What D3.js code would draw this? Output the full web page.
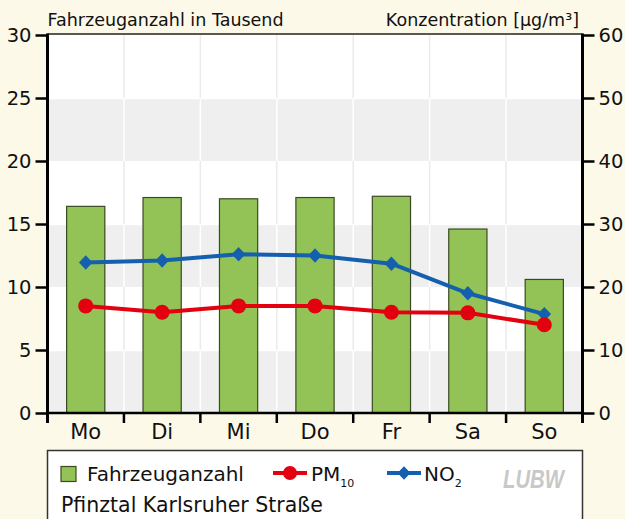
<!DOCTYPE html>
<html><head><meta charset="utf-8">
<script src="https://cdn.jsdelivr.net/npm/d3@7"></script>
<style>
html,body{margin:0;padding:0;background:#fdf9e8;}
svg{display:block;font-family:"DejaVu Sans",sans-serif;}
</style></head>
<body><svg id="c" width="625" height="519"></svg>
<script>
const days = ["Mo","Di","Mi","Do","Fr","Sa","So"];
const vehicles = [16.4, 17.1, 17.0, 17.1, 17.2, 14.6, 10.6];   // thousands
const pm10 = [17.0, 16.0, 17.0, 17.0, 16.0, 15.9, 14.0];      // µg/m³
const no2 = [23.9, 24.2, 25.2, 25.0, 23.7, 19.0, 15.7];       // µg/m³
const leftTicks = [0,5,10,15,20,25,30];
const rightTicks = [0,10,20,30,40,50,60];
const greyBands = [[0,5],[10,15],[20,25]];

const svg = d3.select("#c");
const L = 47.5, R = 582.5, T = 35, B = 413;
const yL = d3.scaleLinear().domain([0,30]).range([B,T]);
const yR = d3.scaleLinear().domain([0,60]).range([B,T]);
const x = d3.scaleBand().domain(days).range([L,R]).paddingInner(0.5).paddingOuter(0.25);
const xb = d3.scaleBand().domain(days).range([L,R]).padding(0);
const cx = d => x(d) + x.bandwidth()/2;

svg.append("rect").attr("width",625).attr("height",519).attr("fill","#fdf9e8");
svg.append("rect").attr("x",L).attr("y",T).attr("width",R-L).attr("height",B-T).attr("fill","#fff");
const bounds = days.slice(1).map(d => xb(d));
svg.append("g").selectAll("line").data(bounds).join("line")
  .attr("x1",d=>d).attr("x2",d=>d).attr("y1",T).attr("y2",B)
  .attr("stroke","#ebebeb").attr("stroke-width",1.5);
svg.append("g").selectAll("rect").data(greyBands).join("rect")
  .attr("x",L).attr("width",R-L).attr("y",d=>yL(d[1])).attr("height",d=>yL(d[0])-yL(d[1]))
  .attr("fill","#efefef");
const bg = svg.append("g");
greyBands.forEach(b => {
  bg.selectAll(null).data(bounds).join("line")
    .attr("x1",d=>d).attr("x2",d=>d).attr("y1",yL(b[1])+1.5).attr("y2",yL(b[0]))
    .attr("stroke","#fff").attr("stroke-width",1.5);
  bg.append("line").attr("x1",L).attr("x2",R).attr("y1",yL(b[1])+0.5).attr("y2",yL(b[1])+0.5)
    .attr("stroke","#fff").attr("stroke-width",1.5);
});

svg.append("g").selectAll("rect").data(days).join("rect")
  .attr("x",d=>x(d)).attr("width",x.bandwidth())
  .attr("y",(d,i)=>yL(vehicles[i])).attr("height",(d,i)=>B-yL(vehicles[i]))
  .attr("fill","#93c357").attr("stroke","#3a4a22").attr("stroke-width",1.2);

const lineR = d3.line().x((v,i)=>cx(days[i])).y(v=>yR(v));
svg.append("path").datum(no2).attr("d",lineR).attr("fill","none")
  .attr("stroke","#1460ae").attr("stroke-width",4).attr("stroke-linejoin","round");
const diamond = (w,h) => `M0,${-h}L${w},0L0,${h}L${-w},0Z`;
svg.append("g").selectAll("path").data(no2).join("path")
  .attr("transform",(v,i)=>`translate(${cx(days[i])},${yR(v)})`)
  .attr("d",diamond(6.8,7.2)).attr("fill","#1460ae");
svg.append("path").datum(pm10).attr("d",lineR).attr("fill","none")
  .attr("stroke","#e3000f").attr("stroke-width",4).attr("stroke-linejoin","round");
svg.append("g").selectAll("circle").data(pm10).join("circle")
  .attr("cx",(v,i)=>cx(days[i])).attr("cy",v=>yR(v)).attr("r",7.5).attr("fill","#e3000f");

svg.append("line").attr("x1",L).attr("x2",R).attr("y1",T-1).attr("y2",T-1)
  .attr("stroke","#222").attr("stroke-width",1.5);

const axL = svg.append("g").attr("transform",`translate(${L},0)`)
  .call(d3.axisLeft(yL).tickValues(leftTicks).tickSize(12).tickSizeOuter(0).tickPadding(4));
const axR = svg.append("g").attr("transform",`translate(${R},0)`)
  .call(d3.axisRight(yR).tickValues(rightTicks).tickSize(12).tickSizeOuter(0).tickPadding(4));
[axL,axR].forEach(a=>{
  a.select(".domain").attr("stroke","#000").attr("stroke-width",3);
  a.selectAll(".tick line").attr("stroke","#000").attr("stroke-width",2.5);
  a.selectAll(".tick text").attr("font-size",19.5).attr("fill","#111")
    .attr("font-family","DejaVu Sans, sans-serif");
});
axL.select(".domain").attr("d",`M0,${T-1.5}V${B+10}`);
axR.select(".domain").attr("d",`M0,${T-1.5}V${B+10}`);

const axX = svg.append("g").attr("transform",`translate(0,${B})`)
  .call(d3.axisBottom(x).tickSize(0).tickPadding(11));
axX.select(".domain").attr("d",`M${L},0H${R}`).attr("stroke","#000").attr("stroke-width",2.5);
axX.selectAll(".tick text").attr("font-size",21).attr("fill","#111")
  .attr("font-family","DejaVu Sans, sans-serif");
svg.append("g").selectAll("line").data(bounds).join("line")
  .attr("x1",d=>d).attr("x2",d=>d).attr("y1",B).attr("y2",B+10)
  .attr("stroke","#000").attr("stroke-width",2.5);

svg.append("text").attr("x",L).attr("y",26).attr("font-size",17.5).attr("fill","#111")
  .text("Fahrzeuganzahl in Tausend");
svg.append("text").attr("x",579).attr("y",26).attr("font-size",17.5).attr("fill","#111")
  .attr("text-anchor","end").text("Konzentration [µg/m³]");

svg.append("rect").attr("x",L).attr("y",450.5).attr("width",R-L).attr("height",80)
  .attr("fill","#fff").attr("stroke","#333").attr("stroke-width",1.5);
svg.append("rect").attr("x",61).attr("y",466.5).attr("width",15).attr("height",15)
  .attr("fill","#93c357").attr("stroke","#3a4a22").attr("stroke-width",1.2);
svg.append("text").attr("x",87).attr("y",481).attr("font-size",20).attr("fill","#111").text("Fahrzeuganzahl");
svg.append("line").attr("x1",273).attr("x2",307).attr("y1",473).attr("y2",473)
  .attr("stroke","#e3000f").attr("stroke-width",4);
svg.append("circle").attr("cx",290).attr("cy",473).attr("r",7).attr("fill","#e3000f");
const tPM = svg.append("text").attr("x",311).attr("y",481).attr("font-size",20).attr("fill","#111");
tPM.append("tspan").text("PM");
tPM.append("tspan").attr("font-size",11).attr("dy",6).text("10");
svg.append("line").attr("x1",387).attr("x2",421).attr("y1",473).attr("y2",473)
  .attr("stroke","#1460ae").attr("stroke-width",4);
svg.append("path").attr("transform","translate(404,473)").attr("d",diamond(6.5,6.8)).attr("fill","#1460ae");
const tNO = svg.append("text").attr("x",424).attr("y",481).attr("font-size",20).attr("fill","#111");
tNO.append("tspan").text("NO");
tNO.append("tspan").attr("font-size",11).attr("dy",6).text("2");
svg.append("text").attr("x",503).attr("y",488).attr("font-size",25).attr("font-weight","bold")
  .attr("font-style","italic").attr("fill","#c8c8c8").attr("textLength",61)
  .attr("lengthAdjust","spacingAndGlyphs").attr("font-family","Liberation Sans Narrow, Liberation Sans, sans-serif")
  .text("LUBW");
svg.append("text").attr("x",61).attr("y",512).attr("font-size",20.5).attr("fill","#111")
  .text("Pfinztal Karlsruher Straße");
</script></body></html>
